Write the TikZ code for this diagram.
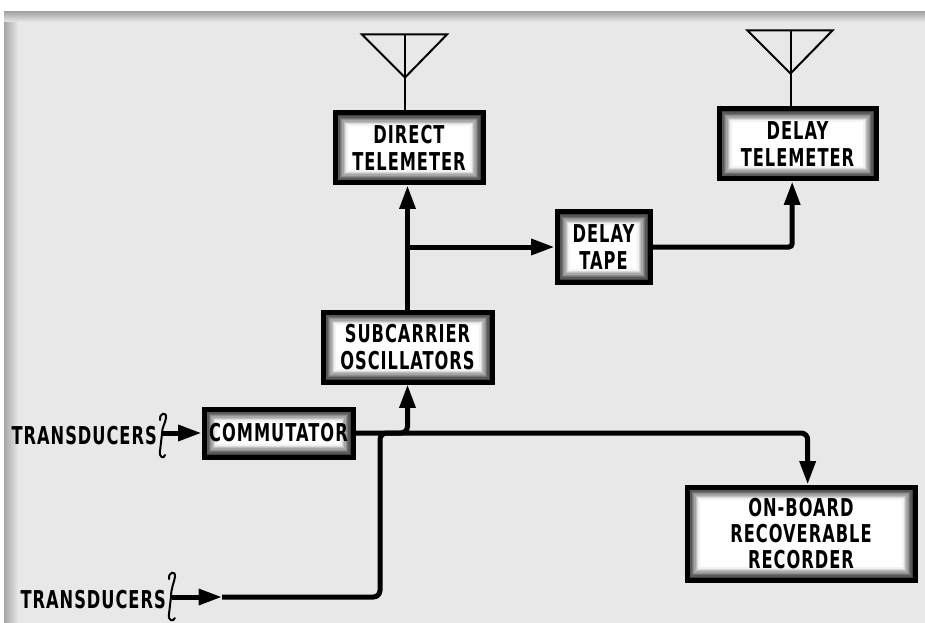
\documentclass[tikz,border=0pt]{standalone}
\usepackage{fontspec}
\newfontfamily\lettering{DejaVu Sans}[FakeStretch=0.66,LetterSpace=4]
\usetikzlibrary{arrows.meta,positioning,calc}

\tikzset{
  unit/.style={draw=black,line width=1.5mm,fill=white,align=center,inner sep=0pt,
    font=\lettering\bfseries\fontsize{21}{22.5}\selectfont,
    path picture={\foreach \k [evaluate=\k as \sh using int(85-10*\k)] in {1,...,8}
      {\draw[line width=.45mm,black!\sh] ([shift={(\k*.4mm+.4mm,\k*.4mm+.4mm)}]path picture bounding box.south west)
        rectangle ([shift={(-\k*.4mm-.4mm,-\k*.4mm-.4mm)}]path picture bounding box.north east);}}},
  tagtext/.style={font=\lettering\bfseries\fontsize{21}{22.5}\selectfont,inner sep=0pt},
  flow/.style={line width=1.5mm,-{Triangle[length=7mm,width=4.6mm]}},
  aerial/.style={line width=.6mm,line join=miter},
  curl/.style={line width=.6mm,line cap=round}
}

\begin{document}
\begin{tikzpicture}[x=.3mm,y=-.3mm]
\useasboundingbox (0,0) rectangle (925,623);
% paper
\fill[black!9] (4,12) rectangle (925,623);
\shade[left color=black!35,right color=black!9] (4,12) rectangle (18,623);
\shade[top color=black!35,bottom color=black!9] (4,12) rectangle (925,22);

% blocks
\node[unit,minimum width=44.4mm,minimum height=21mm] (dtel) at (409,148) {DIRECT\\TELEMETER};
\node[unit,minimum width=47.1mm,minimum height=21mm] (ltel) at (797.5,144) {DELAY\\TELEMETER};
\node[unit,minimum width=27.9mm,minimum height=21mm] (tape) at (603.5,247) {DELAY\\TAPE};
\node[unit,minimum width=50.7mm,minimum height=21mm] (sco) at (407.5,347) {SUBCARRIER\\OSCILLATORS};
\node[unit,minimum width=44.7mm,minimum height=14.4mm] (comm) at (278.5,433) {COMMUTATOR};
\node[unit,minimum width=68.4mm,minimum height=27.9mm] (rec) at (801,533.5) {ON-BOARD\\RECOVERABLE\\RECORDER};
\node[tagtext,anchor=east] (tr1) at (157,436) {TRANSDUCERS};
\node[tagtext,anchor=east] (tr2) at (166,600) {TRANSDUCERS};

% antennas
\foreach \blk/\dx in {dtel/-4,ltel/-7}{
  \coordinate (ant) at ([xshift=\dx*.3mm]\blk.north);
  \draw[aerial] (ant) -- ++(0,-76);
  \draw[aerial] ($(ant)+(0,-33)$) -- ++(-43,-43) -- ++(85,0) -- cycle;
}

% curls
\draw[curl] (160,420) .. controls (159,413) and (167,411) .. (166,418)
  .. controls (165,424) and (162,427) .. (162,434) -- (160,451) .. controls (159,458) and (164,459) .. (165,455);
\draw[curl] (169,579) .. controls (168,572) and (176,570) .. (175,577)
  .. controls (174,583) and (171,588) .. (171,597) -- (169,614) .. controls (168,621) and (173,622) .. (175,618);
\coordinate (b1) at (163,433);
\coordinate (b2) at (172,597);
\coordinate (j2) at (222,597);
\coordinate (jn) at (380,433);

% signal paths
\draw[flow] (b1) -- (comm.west);
\draw[flow] (b2) -- (j2);
\draw[flow,rounded corners=2mm] (comm.east) -| (sco.south);
\draw[flow,rounded corners=2mm] (j2) -| (jn) -| ([xshift=2mm]rec.north);
\draw[flow] (sco.north) -- (sco.north |- dtel.south);
\draw[flow] (sco.north |- tape.west) -- (tape.west);
\draw[flow,rounded corners=1mm] (tape.east) -| ([xshift=-1.6mm]ltel.south);
\end{tikzpicture}
\end{document}
